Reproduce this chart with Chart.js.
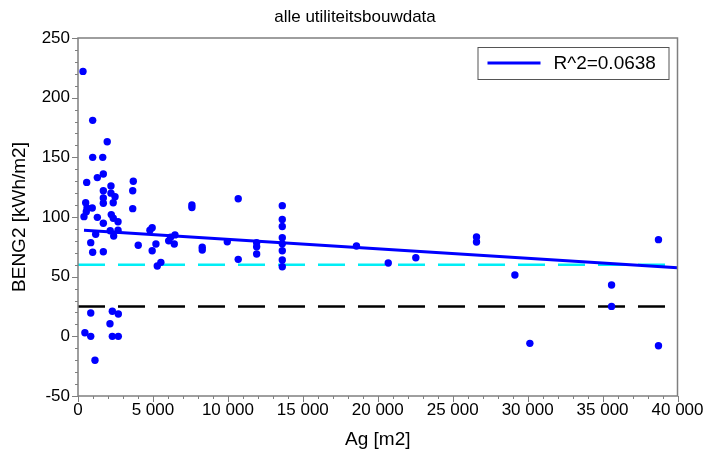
<!DOCTYPE html>
<html>
<head>
<meta charset="utf-8">
<script src="https://cdn.jsdelivr.net/npm/chart.js@4.4.1/dist/chart.umd.min.js"></script>
<style>
  html, body { margin: 0; padding: 0; background: #ffffff; }
  #wrap { width: 710px; height: 452px; }
</style>
</head>
<body>
<div id="wrap"><canvas id="chart"></canvas></div>
<script>
// Gebruiksoppervlak (Ag, m2) per gebouw
const agValues = [
  333, 980, 1950, 980, 1650, 1690, 1290, 580, 3690, 2200,
  3650, 1690, 2200, 2470, 1690, 1690, 2350, 513, 3650, 600,
  950, 553, 400, 1290, 2220, 2354, 1690, 2670, 1180, 2150,
  2670, 2380, 850, 980, 1690, 4020, 850, 2290, 2690, 2134,
  460, 850, 2290, 2690, 1134,
  4800, 4950, 5200, 4950, 5530, 5290, 6470, 6180, 6050, 6424,
  7600, 7600, 8290, 8290, 9960, 10690, 10690, 11920, 11920, 11920,
  13630, 13630, 13630, 13630, 13630, 13630, 13630, 13630,
  18580, 20700, 22540, 26590, 26590, 29150, 30150, 35600, 35600, 38730, 38730
];
// BENG2 (kWh/m2) per gebouw, zelfde volgorde
const beng2Values = [
  222, 181, 163, 150, 150, 136, 133, 129, 130, 126,
  122, 122, 120, 117, 116, 111.5, 112, 112, 107, 107.5,
  107.5, 104.5, 100.3, 99.7, 102, 99, 94.7, 96, 85.5, 88.5,
  89, 84, 78.5, 70.4, 70.9, 76.3, 19.5, 21, 18.7, 10.6,
  3, 0, 0, 0, -20,
  89, 91, 77.4, 71.7, 62, 59, 85, 83, 80, 77.4,
  110, 108, 74.6, 72.3, 79.3, 115.3, 64.5, 78.5, 75, 69,
  109.5, 98, 92, 82.7, 77.5, 71.7, 64, 58.3,
  75.7, 61.4, 65.9, 83.2, 79, 51.4, -5.9, 43, 25.1, 81, -7.9
];

// Lineaire trendlijn
const fitAg = [400, 40000];
const fitBeng2 = [88.8, 57.5];
const fitLabel = 'R^2=0.0638';

// Horizontale grenswaarden
const limitAg = [0, 40000];
const cyanLimit = [60, 60];
const blackLimit = [25, 25];

// As-indeling
const xTickValues = [0, 5000, 10000, 15000, 20000, 25000, 30000, 35000, 40000];
const yTickValues = [-50, 0, 50, 100, 150, 200, 250];
const xMinorStep = 1000;
const yMinorStep = 10;

const FONT = "'Liberation Sans', Arial, sans-serif";
const AXIS_GREY = '#7f7f7f';

const toPoints = (xs, ys) => xs.map((x, i) => ({ x: x, y: ys[i] }));
const spaced = v => String(v).replace(/\B(?=(\d{3})+(?!\d))/g, ' ');

// Kader, hoofd- en hulpstreepjes langs de assen
const framePlugin = {
  id: 'frame',
  afterDraw(chart) {
    const { ctx, chartArea: a, scales } = chart;
    const xs = scales.x, ys = scales.y;
    ctx.save();
    ctx.strokeStyle = AXIS_GREY;
    ctx.lineWidth = 1.5;
    ctx.strokeRect(a.left, a.top, a.right - a.left, a.bottom - a.top);
    ctx.lineWidth = 1;
    ctx.beginPath();
    for (let v = xs.min; v <= xs.max + 1e-6; v += xMinorStep) {
      const px = Math.round(xs.getPixelForValue(v)) + 0.5;
      const len = (v % 5000 === 0) ? 6 : 3;
      ctx.moveTo(px, a.bottom);
      ctx.lineTo(px, a.bottom + len);
    }
    for (let v = ys.min; v <= ys.max + 1e-6; v += yMinorStep) {
      const py = Math.round(ys.getPixelForValue(v)) + 0.5;
      const len = (v % 50 === 0) ? 6 : 3;
      ctx.moveTo(a.left, py);
      ctx.lineTo(a.left - len, py);
    }
    ctx.stroke();
    ctx.restore();
  }
};

// Legenda rechtsboven in het plotvlak
const legendBoxPlugin = {
  id: 'legendBox',
  afterDraw(chart) {
    const { ctx, chartArea: a } = chart;
    const w = 191, h = 32;
    const x0 = a.right - 9 - w, y0 = a.top + 9;
    ctx.save();
    ctx.fillStyle = '#ffffff';
    ctx.fillRect(x0, y0, w, h);
    ctx.strokeStyle = '#555555';
    ctx.lineWidth = 1;
    ctx.strokeRect(x0 + 0.5, y0 + 0.5, w, h);
    const ym = y0 + h / 2;
    ctx.strokeStyle = '#0000ff';
    ctx.lineWidth = 3;
    ctx.beginPath();
    ctx.moveTo(x0 + 10, ym);
    ctx.lineTo(x0 + 63, ym);
    ctx.stroke();
    ctx.fillStyle = '#000000';
    ctx.font = "19px " + FONT;
    ctx.textBaseline = 'middle';
    ctx.textAlign = 'left';
    ctx.fillText(fitLabel, x0 + 76, ym + 1);
    ctx.restore();
  }
};

new Chart(document.getElementById('chart'), {
  type: 'scatter',
  data: {
    datasets: [
      {
        label: 'gebouwen',
        data: toPoints(agValues, beng2Values),
        backgroundColor: '#0000ff',
        borderWidth: 0,
        pointRadius: 3.7,
        order: 0
      },
      {
        label: fitLabel,
        type: 'line',
        data: toPoints(fitAg, fitBeng2),
        borderColor: '#0000ff',
        borderWidth: 3,
        pointRadius: 0,
        order: 1
      },
      {
        label: 'grens 60',
        type: 'line',
        data: toPoints(limitAg, cyanLimit),
        borderColor: '#00eef5',
        borderWidth: 2.5,
        borderDash: [27, 13],
        pointRadius: 0,
        order: 2
      },
      {
        label: 'grens 25',
        type: 'line',
        data: toPoints(limitAg, blackLimit),
        borderColor: '#000000',
        borderWidth: 2.5,
        borderDash: [27, 13],
        pointRadius: 0,
        order: 2
      }
    ]
  },
  options: {
    responsive: true,
    maintainAspectRatio: false,
    animation: false,
    layout: { padding: 0 },
    plugins: {
      legend: { display: false },
      tooltip: { enabled: false },
      title: {
        display: true,
        text: 'alle utiliteitsbouwdata',
        color: '#000000',
        font: { family: FONT, size: 17, weight: 'normal', lineHeight: 1.2 },
        padding: { top: 7, bottom: 10.6 }
      }
    },
    scales: {
      x: {
        type: 'linear',
        min: 0,
        max: 40000,
        afterBuildTicks: s => { s.ticks = xTickValues.map(v => ({ value: v })); },
        afterFit: s => { s.height = 56; },
        grid: { display: false, drawTicks: false },
        border: { display: false },
        ticks: {
          color: '#000000',
          font: { family: FONT, size: 17 },
          padding: 4,
          maxRotation: 0,
          autoSkip: false,
          callback: v => spaced(v)
        },
        title: {
          display: true,
          text: 'Ag [m2]',
          color: '#000000',
          font: { family: FONT, size: 19 },
          padding: { top: 0, bottom: 0.6 }
        }
      },
      y: {
        type: 'linear',
        min: -50,
        max: 250,
        afterBuildTicks: s => { s.ticks = yTickValues.map(v => ({ value: v })); },
        afterFit: s => { s.width = 78; },
        grid: { display: false, drawTicks: false },
        border: { display: false },
        ticks: {
          color: '#000000',
          font: { family: FONT, size: 17 },
          padding: 8,
          autoSkip: false,
          callback: v => String(v)
        },
        title: {
          display: true,
          text: 'BENG2 [kWh/m2]',
          color: '#000000',
          font: { family: FONT, size: 19 },
          padding: { top: 8.6, bottom: 0 }
        }
      },
      // lege rechterrand naast het plotvlak
      yRight: {
        type: 'linear',
        position: 'right',
        min: -50,
        max: 250,
        afterFit: s => { s.width = 32.5; },
        grid: { display: false, drawTicks: false },
        border: { display: false },
        ticks: { display: false }
      }
    }
  },
  plugins: [framePlugin, legendBoxPlugin]
});
</script>
</body>
</html>
